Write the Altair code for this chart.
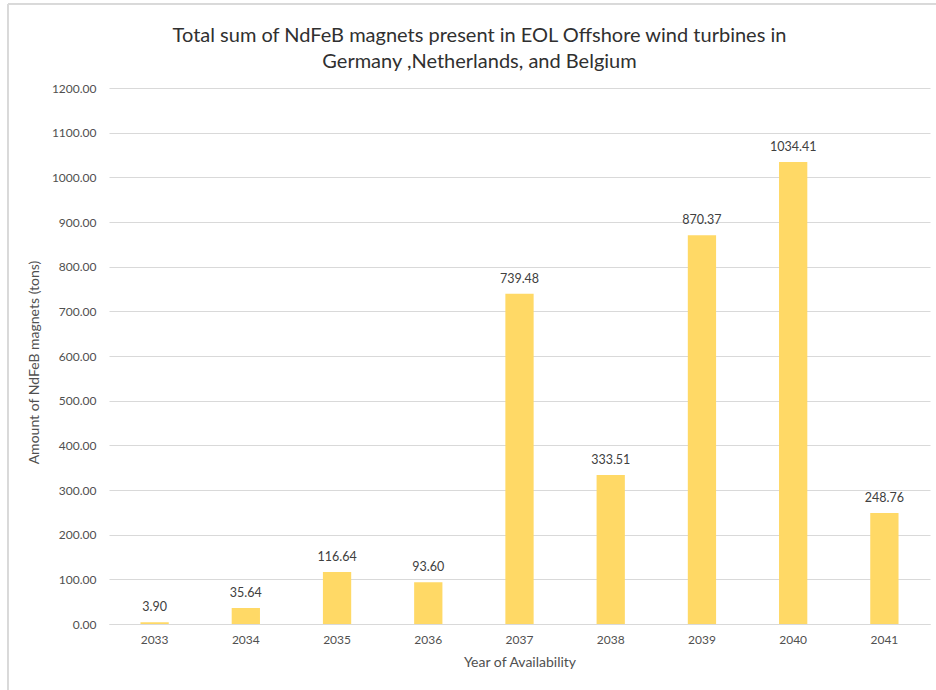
import altair as alt
import pandas as pd

# Yearly totals of recoverable NdFeB magnet mass (tons)
years = ["2033", "2034", "2035", "2036", "2037", "2038", "2039", "2040", "2041"]
amounts = [3.90, 35.64, 116.64, 93.60, 739.48, 333.51, 870.37, 1034.41, 248.76]

df = pd.DataFrame({"year": years, "amount": amounts})

FONT = "Lato"
TEXT = "#505050"

x_enc = alt.X(
    "year:N",
    title="Year of Availability",
    sort=years,
    scale=alt.Scale(paddingInner=0.69, paddingOuter=0.345),
    axis=alt.Axis(
        labelAngle=0,
        ticks=False,
        domainColor="#D9D9D9",
        labelPadding=10,
        titlePadding=10,
    ),
)
y_enc = alt.Y(
    "amount:Q",
    title="Amount of NdFeB magnets (tons)",
    scale=alt.Scale(domain=[0, 1200]),
    axis=alt.Axis(
        format=".2f",
        values=list(range(0, 1201, 100)),
        ticks=False,
        domain=False,
        gridColor="#D9D9D9",
        labelPadding=13,
        titlePadding=10,
        titleY=274,
    ),
)

bars = alt.Chart(df).mark_bar(color="#FFD966").encode(x=x_enc, y=y_enc)

labels = alt.Chart(df).mark_text(
    dy=-15, fontSize=12.5, font=FONT, color="#404040"
).encode(
    x=alt.X("year:N", sort=years),
    y="amount:Q",
    text=alt.Text("amount:Q", format=".2f"),
)

# outer frame around the whole chart area
frame = alt.Chart(df).mark_rect(
    fill=None, stroke="#D9D9D9", strokeWidth=1
).encode(
    x=alt.value(-101), x2=alt.value(900),
    y=alt.value(-84), y2=alt.value(700),
)

chart = alt.layer(frame, bars, labels).properties(
    width=821,
    height=536,
    title=alt.TitleParams(
        text=[
            "Total sum of NdFeB magnets present in EOL Offshore wind turbines in",
            "Germany ,Netherlands, and Belgium",
        ],
        fontSize=20,
        font=FONT,
        fontWeight="normal",
        color="#303030",
        lineHeight=26,
        anchor="middle",
        frame="group",
        dx=-40,
        dy=86,
        offset=18,
    ),
    autosize=alt.AutoSizeParams(type="none"),
    padding={"left": 109, "top": 88, "right": 6, "bottom": 66},
).configure_view(stroke=None).configure_axis(
    labelFont=FONT,
    titleFont=FONT,
    labelFontSize=12,
    titleFontSize=14,
    labelColor=TEXT,
    titleColor=TEXT,
    titleFontWeight="normal",
)

chart.save("out.html", embed_options={"renderer": "svg", "actions": False})
